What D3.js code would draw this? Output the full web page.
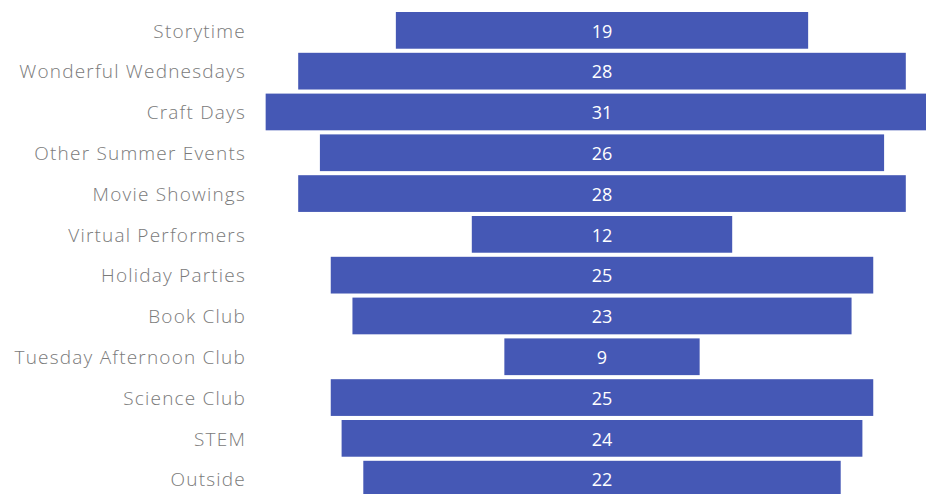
<!DOCTYPE html>
<html>
<head>
<meta charset="utf-8">
<script src="https://cdn.jsdelivr.net/npm/d3@7"></script>
<style>
  html, body { margin: 0; padding: 0; background: #fff; }
  svg { display: block; }
  .cat { font-family: "Open Sans", sans-serif; font-size: 19px; font-weight: 300; fill: #7a7a7a; letter-spacing: 1.2px; }
  .val { font-family: "Open Sans", sans-serif; font-size: 18px; fill: #fff; }
</style>
</head>
<body>
<svg id="chart" width="926" height="494"></svg>
<script>
let categories = ["Storytime", "Wonderful Wednesdays", "Craft Days", "Other Summer Events",
  "Movie Showings", "Virtual Performers", "Holiday Parties", "Book Club",
  "Tuesday Afternoon Club", "Science Club", "STEM", "Outside"];
let values = [19, 28, 31, 26, 28, 12, 25, 23, 9, 25, 24, 22];

let layout = {
  width: 926, height: 494,
  center_x: 602,
  label_x: 246,
  band: { y0: 12, step: 40.8, pad: 0.1 },
  unit: 21.7
};

let svg = d3.select("#chart");

// rows
let y = d3.scaleBand()
  .domain(categories)
  .range([layout.band.y0 - layout.band.step * layout.band.pad / 2,
          layout.band.y0 - layout.band.step * layout.band.pad / 2 + layout.band.step * categories.length])
  .paddingInner(layout.band.pad)
  .paddingOuter(layout.band.pad / 2);

// full bar width, centered on center_x
let w = d3.scaleLinear().domain([0, 1]).range([0, layout.unit]);

let rows = categories.map(function(c, i) { return {name: c, value: values[i]}; });

svg.append("g").selectAll("rect").data(rows).enter().append("rect")
  .attr("x", function(d) { return layout.center_x - w(d.value) / 2; })
  .attr("y", function(d) { return y(d.name); })
  .attr("width", function(d) { return w(d.value); })
  .attr("height", y.bandwidth())
  .style("fill", "#4558b5");

svg.append("g").selectAll("text").data(rows).enter().append("text")
  .attr("class", "val")
  .attr("x", layout.center_x)
  .attr("y", function(d) { return y(d.name) + y.bandwidth() / 2; })
  .attr("dy", "0.4em")
  .attr("text-anchor", "middle")
  .text(function(d) { return d.value; });

svg.append("g").selectAll("text").data(rows).enter().append("text")
  .attr("class", "cat")
  .attr("x", layout.label_x)
  .attr("y", function(d) { return y(d.name) + y.bandwidth() / 2; })
  .attr("dy", "0.38em")
  .attr("text-anchor", "end")
  .text(function(d) { return d.name; });
</script>
</body>
</html>
